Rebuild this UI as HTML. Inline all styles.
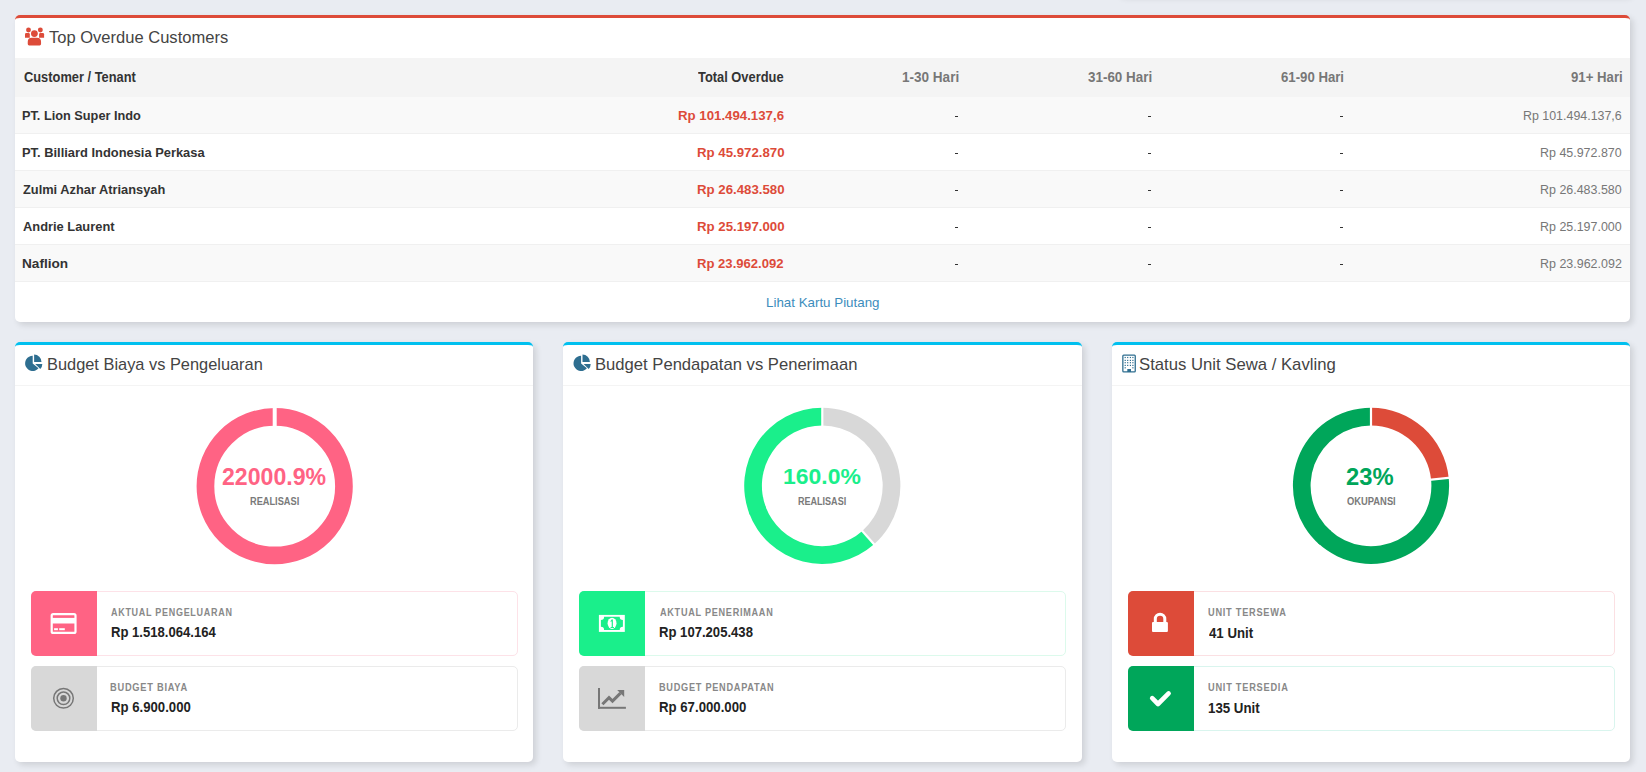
<!DOCTYPE html><html><head><meta charset="utf-8"><style>
*{margin:0;padding:0;box-sizing:border-box}
html,body{width:1646px;height:772px;overflow:hidden;background:#e9ecf2;font-family:"Liberation Sans",sans-serif}
.t{position:absolute;white-space:nowrap;transform-origin:0 0}
.card{position:absolute;background:#fff;border-radius:5px;box-shadow:3px 3px 6px rgba(0,0,0,.12)}
.ib{position:absolute;background:#fff;border:1px solid #eee;border-radius:5px}
.ibi{position:absolute;left:-1px;top:-1px;bottom:-1px;width:66px;border-radius:5px 0 0 5px}
svg{position:absolute;left:0;top:0}
</style></head><body>
<div class="card" style="left:1117px;top:-205px;width:513px;height:200px"></div>
<div class="card" style="left:15px;top:15px;width:1615px;height:307px;overflow:hidden;border-top:3px solid #dd4b39"><div style="position:absolute;left:0;top:40px;right:0;height:39px;background:#f4f4f4"></div>
<div style="position:absolute;left:0;top:79px;right:0;height:37px;background:#f9f9f9;border-bottom:1px solid #f0f0f0"></div>
<div style="position:absolute;left:0;top:116px;right:0;height:37px;background:#fff;border-bottom:1px solid #f0f0f0"></div>
<div style="position:absolute;left:0;top:153px;right:0;height:37px;background:#f9f9f9;border-bottom:1px solid #f0f0f0"></div>
<div style="position:absolute;left:0;top:190px;right:0;height:37px;background:#fff;border-bottom:1px solid #f0f0f0"></div>
<div style="position:absolute;left:0;top:227px;right:0;height:37px;background:#f9f9f9;border-bottom:1px solid #f0f0f0"></div>
</div>
<div class="card" style="left:15px;top:342px;width:518.33px;height:420px;overflow:hidden;border-top:3px solid #00c0ef"><div style="position:absolute;left:0;top:40px;right:0;height:1px;background:#f4f4f4"></div></div>
<div class="card" style="left:563.33px;top:342px;width:518.34px;height:420px;overflow:hidden;border-top:3px solid #00c0ef"><div style="position:absolute;left:0;top:40px;right:0;height:1px;background:#f4f4f4"></div></div>
<div class="card" style="left:1111.67px;top:342px;width:518.33px;height:420px;overflow:hidden;border-top:3px solid #00c0ef"><div style="position:absolute;left:0;top:40px;right:0;height:1px;background:#f4f4f4"></div></div>
<div class="ib" style="left:31.00px;top:591px;width:487.00px;height:64.5px;border-color:#fde2e8"><div class="ibi" style="background:#ff6384"></div></div>
<div class="ib" style="left:31.00px;top:666px;width:487.00px;height:64.5px;border-color:#ebebeb"><div class="ibi" style="background:#d8d8d8"></div></div>
<div class="ib" style="left:579.00px;top:591px;width:487.00px;height:64.5px;border-color:#dcfaec"><div class="ibi" style="background:#1aef8b"></div></div>
<div class="ib" style="left:579.00px;top:666px;width:487.00px;height:64.5px;border-color:#ebebeb"><div class="ibi" style="background:#d8d8d8"></div></div>
<div class="ib" style="left:1128.00px;top:591px;width:487.00px;height:64.5px;border-color:#fbe0e3"><div class="ibi" style="background:#dd4b39"></div></div>
<div class="ib" style="left:1128.00px;top:666px;width:487.00px;height:64.5px;border-color:#d9f5ee"><div class="ibi" style="background:#00a65a"></div></div>
<svg width="1646" height="772" viewBox="0 0 1646 772"><circle cx="274.7" cy="486.2" r="69.25" fill="none" stroke="#ff6384" stroke-width="17.70"/><line x1="274.70" y1="427.80" x2="274.70" y2="406.10" stroke="#fff" stroke-width="4.0"/><path d="M822.30 407.70A78.1 78.1 0 0 1 874.05 544.29L862.32 531.04A60.4 60.4 0 0 0 822.30 425.40Z" fill="#d8d8d8"/><path d="M874.05 544.29A78.1 78.1 0 0 1 748.79 512.19L765.45 506.21A60.4 60.4 0 0 0 862.32 531.04Z" fill="#1aef8b"/><path d="M749.76 514.74A78.1 78.1 0 0 1 822.30 407.70L822.30 425.40A60.4 60.4 0 0 0 766.20 508.18Z" fill="#1aef8b"/><line x1="822.30" y1="427.40" x2="822.30" y2="405.70" stroke="#fff" stroke-width="2.2"/><line x1="861.00" y1="529.54" x2="875.38" y2="545.79" stroke="#fff" stroke-width="2.2"/><path d="M1371.00 407.70A78.1 78.1 0 0 1 1448.70 477.91L1431.09 479.70A60.4 60.4 0 0 0 1371.00 425.40Z" fill="#dd4b39"/><path d="M1448.70 477.91A78.1 78.1 0 0 1 1317.64 542.83L1329.73 529.90A60.4 60.4 0 0 0 1431.09 479.70Z" fill="#00a65a"/><path d="M1319.66 544.65A78.1 78.1 0 0 1 1371.00 407.70L1371.00 425.40A60.4 60.4 0 0 0 1331.29 531.32Z" fill="#00a65a"/><line x1="1371.00" y1="427.40" x2="1371.00" y2="405.70" stroke="#fff" stroke-width="2.2"/><line x1="1429.10" y1="479.90" x2="1450.69" y2="477.71" stroke="#fff" stroke-width="2.2"/></svg>
<svg width="1646" height="772" viewBox="0 0 1646 772"><g fill="#dd4b39">
<circle cx="34.4" cy="33.6" r="3.4"/>
<circle cx="28.5" cy="30.0" r="2.45"/>
<circle cx="40.35" cy="30.0" r="2.45"/>
<path d="M25 34.2q0-1.3 1.3-1.3h2.2q1.3 0 1.3 1.3v3.5h-4.8z"/>
<path d="M39.1 34.2q0-1.3 1.3-1.3h2.4q1.3 0 1.3 1.3v3.5h-5z"/>
<path d="M27.75 41.7a4 4 0 0 1 4-4h5.3a4 4 0 0 1 4 4v2.4q0 1.4-1.4 1.4h-10.5q-1.4 0-1.4-1.4z"/>
</g>
<g id="pie" fill="#2e6e90">
<path d="M32.7 363.4L38.52 368.29A7.6 7.6 0 1 1 32.7 355.8Z"/>
<path d="M34.1 361.9V354.6A7.4 7.4 0 0 1 41.5 361.9Z"/>
<path d="M35.2 363.9H42.3A7.3 7.3 0 0 1 40.3 368.9Z"/>
</g>
<use href="#pie" x="548.4" y="0"/>
<g fill="none" stroke="#2e6e90">
<rect x="1122.85" y="355.15" width="12.4" height="16.8" rx="0.9" stroke-width="1.3"/>
</g>
<g fill="#2e6e90">
<rect x="1124.6" y="356.9" width="1.2" height="1.2"/><rect x="1127.1" y="356.9" width="1.2" height="1.2"/><rect x="1129.8" y="356.9" width="1.2" height="1.2"/><rect x="1132.3" y="356.9" width="1.2" height="1.2"/>
<rect x="1124.6" y="359.8" width="1.2" height="1.2"/><rect x="1127.1" y="359.8" width="1.2" height="1.2"/><rect x="1129.8" y="359.8" width="1.2" height="1.2"/><rect x="1132.3" y="359.8" width="1.2" height="1.2"/>
<rect x="1124.6" y="362.1" width="1.2" height="1.2"/><rect x="1127.1" y="362.1" width="1.2" height="1.2"/><rect x="1129.8" y="362.1" width="1.2" height="1.2"/><rect x="1132.3" y="362.1" width="1.2" height="1.2"/>
<rect x="1124.6" y="364.8" width="1.2" height="1.2"/><rect x="1127.1" y="364.8" width="1.2" height="1.2"/><rect x="1129.8" y="364.8" width="1.2" height="1.2"/><rect x="1132.3" y="364.8" width="1.2" height="1.2"/>
<rect x="1124.6" y="367.2" width="1.2" height="1.2"/><rect x="1132.3" y="367.2" width="1.2" height="1.2"/>
<rect x="1127.3" y="369" width="3.7" height="3"/>
</g>
<g fill="#fff">
<rect x="51.7" y="614.1" width="23.8" height="18.8" rx="1.5" fill="none" stroke="#fff" stroke-width="2.2"/>
<rect x="51" y="617.9" width="25" height="5.6"/>
<rect x="54.1" y="628.2" width="3.8" height="2"/>
<rect x="59.2" y="628.2" width="5.6" height="2"/>
</g>
<g fill="none" stroke="#777">
<circle cx="63.5" cy="698.3" r="9.8" stroke-width="1.5"/>
<circle cx="63.5" cy="698.3" r="6.3" stroke-width="1.5"/>
</g>
<circle cx="63.5" cy="698.3" r="3.2" fill="#777"/>
<rect x="598.9" y="614.9" width="25.9" height="17" fill="#fff"/>
<path fill="#1aef8b" d="M604.1 616.7H619.7A3.2 3.2 0 0 0 622.9 619.9V626.8A3.2 3.2 0 0 0 619.7 630H604.1A3.2 3.2 0 0 0 600.9 626.8V619.9A3.2 3.2 0 0 0 604.1 616.7Z"/>
<ellipse cx="612.05" cy="623.3" rx="4.45" ry="5.6" fill="#fff"/>
<path fill="#1aef8b" d="M611.6 619.6h1.3v7.3h1.1v1h-3.4v-1h1.1v-5.6l-1.1 0.8v-1.2z"/>
<g fill="#777">
<rect x="598" y="688" width="2" height="20.8"/>
<rect x="598" y="706.8" width="27.9" height="2"/>
<polygon points="617.2,690 624.2,690 624.2,697"/>
</g>
<polyline points="602.4,704.2 609,697.6 612.5,701.1 620.5,693.1" fill="none" stroke="#777" stroke-width="3" stroke-linejoin="miter"/>
<g fill="#fff">
<rect x="1152" y="622" width="15.9" height="9.9" rx="1"/>
</g>
<path d="M1155.3 622.5V618.95A4.75 4.75 0 0 1 1164.8 618.95V622.5" fill="none" stroke="#fff" stroke-width="3"/>
<polyline points="1152.2,698.2 1158,704.0 1168.6,693.4" fill="none" stroke="#fff" stroke-width="4.6" stroke-linecap="round" stroke-linejoin="round"/>
</svg>
<div class="t" style="left:49.07px;top:29.57px;font-size:16.96px;line-height:16.96px;font-weight:400;color:#444;transform:scaleX(0.9760);">Top Overdue Customers</div>
<div class="t" style="left:23.69px;top:70.12px;font-size:14.06px;line-height:14.06px;font-weight:700;color:#333;transform:scaleX(0.9145);">Customer / Tenant</div>
<div class="t" style="left:698.47px;top:70.12px;font-size:14.06px;line-height:14.06px;font-weight:700;color:#333;transform:scaleX(0.9162);">Total Overdue</div>
<div class="t" style="left:902.39px;top:70.12px;font-size:14.06px;line-height:14.06px;font-weight:700;color:#777;transform:scaleX(0.9635);">1-30 Hari</div>
<div class="t" style="left:1087.73px;top:70.12px;font-size:14.06px;line-height:14.06px;font-weight:700;color:#777;transform:scaleX(0.9555);">31-60 Hari</div>
<div class="t" style="left:1281.07px;top:70.12px;font-size:14.06px;line-height:14.06px;font-weight:700;color:#777;transform:scaleX(0.9385);">61-90 Hari</div>
<div class="t" style="left:1570.60px;top:70.12px;font-size:14.06px;line-height:14.06px;font-weight:700;color:#777;transform:scaleX(0.9388);">91+ Hari</div>
<div class="t" style="left:22.31px;top:108.56px;font-size:13.19px;line-height:13.19px;font-weight:700;color:#333;transform:scaleX(0.9655);">PT. Lion Super Indo</div>
<div class="t" style="left:677.67px;top:108.56px;font-size:13.19px;line-height:13.19px;font-weight:700;color:#dd4b39;transform:scaleX(1.0040);">Rp 101.494.137,6</div>
<div class="t" style="left:1523.01px;top:108.56px;font-size:13.19px;line-height:13.19px;font-weight:400;color:#777;transform:scaleX(0.9413);">Rp 101.494.137,6</div>
<div class="t" style="left:22.30px;top:145.56px;font-size:13.19px;line-height:13.19px;font-weight:700;color:#333;transform:scaleX(0.9770);">PT. Billiard Indonesia Perkasa</div>
<div class="t" style="left:697.07px;top:145.56px;font-size:13.19px;line-height:13.19px;font-weight:700;color:#dd4b39;transform:scaleX(1.0041);">Rp 45.972.870</div>
<div class="t" style="left:1540.00px;top:145.56px;font-size:13.19px;line-height:13.19px;font-weight:400;color:#777;transform:scaleX(0.9443);">Rp 45.972.870</div>
<div class="t" style="left:22.82px;top:182.56px;font-size:13.19px;line-height:13.19px;font-weight:700;color:#333;transform:scaleX(0.9720);">Zulmi Azhar Atriansyah</div>
<div class="t" style="left:697.07px;top:182.56px;font-size:13.19px;line-height:13.19px;font-weight:700;color:#dd4b39;transform:scaleX(1.0041);">Rp 26.483.580</div>
<div class="t" style="left:1540.00px;top:182.56px;font-size:13.19px;line-height:13.19px;font-weight:400;color:#777;transform:scaleX(0.9443);">Rp 26.483.580</div>
<div class="t" style="left:22.81px;top:219.56px;font-size:13.19px;line-height:13.19px;font-weight:700;color:#333;transform:scaleX(0.9760);">Andrie Laurent</div>
<div class="t" style="left:697.07px;top:219.56px;font-size:13.19px;line-height:13.19px;font-weight:700;color:#dd4b39;transform:scaleX(1.0041);">Rp 25.197.000</div>
<div class="t" style="left:1540.00px;top:219.56px;font-size:13.19px;line-height:13.19px;font-weight:400;color:#777;transform:scaleX(0.9443);">Rp 25.197.000</div>
<div class="t" style="left:22.25px;top:256.56px;font-size:13.19px;line-height:13.19px;font-weight:700;color:#333;transform:scaleX(1.0327);">Naflion</div>
<div class="t" style="left:697.08px;top:256.56px;font-size:13.19px;line-height:13.19px;font-weight:700;color:#dd4b39;transform:scaleX(0.9924);">Rp 23.962.092</div>
<div class="t" style="left:1540.00px;top:256.56px;font-size:13.19px;line-height:13.19px;font-weight:400;color:#777;transform:scaleX(0.9458);">Rp 23.962.092</div>
<div class="t" style="left:766.13px;top:295.61px;font-size:13.48px;line-height:13.48px;font-weight:400;color:#3c8dbc;transform:scaleX(0.9905);">Lihat Kartu Piutang</div>
<div class="t" style="left:47.09px;top:355.80px;font-size:17.39px;line-height:17.39px;font-weight:400;color:#444;transform:scaleX(0.9426);">Budget Biaya vs Pengeluaran</div>
<div class="t" style="left:594.87px;top:355.80px;font-size:17.39px;line-height:17.39px;font-weight:400;color:#444;transform:scaleX(0.9566);">Budget Pendapatan vs Penerimaan</div>
<div class="t" style="left:1139.16px;top:355.80px;font-size:17.39px;line-height:17.39px;font-weight:400;color:#444;transform:scaleX(0.9608);">Status Unit Sewa / Kavling</div>
<div class="t" style="left:222.11px;top:465.70px;font-size:23.21px;line-height:23.21px;font-weight:700;color:#ff6384;transform:scaleX(0.9953);">22000.9%</div>
<div class="t" style="left:249.75px;top:495.97px;font-size:10.52px;line-height:10.52px;font-weight:700;color:#7a7a7a;transform:scaleX(0.8775);">REALISASI</div>
<div class="t" style="left:783.22px;top:466.78px;font-size:21.45px;line-height:21.45px;font-weight:700;color:#1aef8b;transform:scaleX(1.0706);">160.0%</div>
<div class="t" style="left:798.37px;top:495.97px;font-size:10.52px;line-height:10.52px;font-weight:700;color:#7a7a7a;transform:scaleX(0.8590);">REALISASI</div>
<div class="t" style="left:1346.49px;top:465.99px;font-size:23.28px;line-height:23.28px;font-weight:700;color:#00a65a;transform:scaleX(1.0224);">23%</div>
<div class="t" style="left:1346.83px;top:496.88px;font-size:10.43px;line-height:10.43px;font-weight:700;color:#7a7a7a;transform:scaleX(0.8984);">OKUPANSI</div>
<div class="t" style="left:110.73px;top:606.77px;font-size:10.54px;line-height:10.54px;font-weight:700;color:#888;transform:scaleX(0.8532);letter-spacing:0.08em;">AKTUAL PENGELUARAN</div>
<div class="t" style="left:111.28px;top:625.77px;font-size:13.77px;line-height:13.77px;font-weight:700;color:#222;transform:scaleX(0.9508);">Rp 1.518.064.164</div>
<div class="t" style="left:109.95px;top:682.95px;font-size:10.00px;line-height:10.00px;font-weight:700;color:#888;transform:scaleX(0.9282);letter-spacing:0.08em;">BUDGET BIAYA</div>
<div class="t" style="left:111.08px;top:701.44px;font-size:13.91px;line-height:13.91px;font-weight:700;color:#222;transform:scaleX(0.9471);">Rp 6.900.000</div>
<div class="t" style="left:659.53px;top:606.77px;font-size:10.54px;line-height:10.54px;font-weight:700;color:#888;transform:scaleX(0.8649);letter-spacing:0.08em;">AKTUAL PENERIMAAN</div>
<div class="t" style="left:658.88px;top:625.77px;font-size:13.77px;line-height:13.77px;font-weight:700;color:#222;transform:scaleX(0.9513);">Rp 107.205.438</div>
<div class="t" style="left:659.36px;top:682.95px;font-size:10.00px;line-height:10.00px;font-weight:700;color:#888;transform:scaleX(0.9167);letter-spacing:0.08em;">BUDGET PENDAPATAN</div>
<div class="t" style="left:658.88px;top:701.44px;font-size:13.91px;line-height:13.91px;font-weight:700;color:#222;transform:scaleX(0.9496);">Rp 67.000.000</div>
<div class="t" style="left:1208.25px;top:607.95px;font-size:10.00px;line-height:10.00px;font-weight:700;color:#888;transform:scaleX(0.9222);letter-spacing:0.08em;">UNIT TERSEWA</div>
<div class="t" style="left:1208.67px;top:625.80px;font-size:14.20px;line-height:14.20px;font-weight:700;color:#222;transform:scaleX(0.9319);">41 Unit</div>
<div class="t" style="left:1208.24px;top:682.95px;font-size:10.00px;line-height:10.00px;font-weight:700;color:#888;transform:scaleX(0.9252);letter-spacing:0.08em;">UNIT TERSEDIA</div>
<div class="t" style="left:1208.00px;top:701.40px;font-size:14.20px;line-height:14.20px;font-weight:700;color:#222;transform:scaleX(0.9364);">135 Unit</div>
<div style="position:absolute;left:955px;top:115.5px;width:3.4px;height:1.3px;background:#333"></div>
<div style="position:absolute;left:1148px;top:115.5px;width:3.2px;height:1.3px;background:#333"></div>
<div style="position:absolute;left:1339.7px;top:115.5px;width:3.5px;height:1.3px;background:#333"></div>
<div style="position:absolute;left:955px;top:152.5px;width:3.4px;height:1.3px;background:#333"></div>
<div style="position:absolute;left:1148px;top:152.5px;width:3.2px;height:1.3px;background:#333"></div>
<div style="position:absolute;left:1339.7px;top:152.5px;width:3.5px;height:1.3px;background:#333"></div>
<div style="position:absolute;left:955px;top:189.5px;width:3.4px;height:1.3px;background:#333"></div>
<div style="position:absolute;left:1148px;top:189.5px;width:3.2px;height:1.3px;background:#333"></div>
<div style="position:absolute;left:1339.7px;top:189.5px;width:3.5px;height:1.3px;background:#333"></div>
<div style="position:absolute;left:955px;top:226.5px;width:3.4px;height:1.3px;background:#333"></div>
<div style="position:absolute;left:1148px;top:226.5px;width:3.2px;height:1.3px;background:#333"></div>
<div style="position:absolute;left:1339.7px;top:226.5px;width:3.5px;height:1.3px;background:#333"></div>
<div style="position:absolute;left:955px;top:263.5px;width:3.4px;height:1.3px;background:#333"></div>
<div style="position:absolute;left:1148px;top:263.5px;width:3.2px;height:1.3px;background:#333"></div>
<div style="position:absolute;left:1339.7px;top:263.5px;width:3.5px;height:1.3px;background:#333"></div>
</body></html>
